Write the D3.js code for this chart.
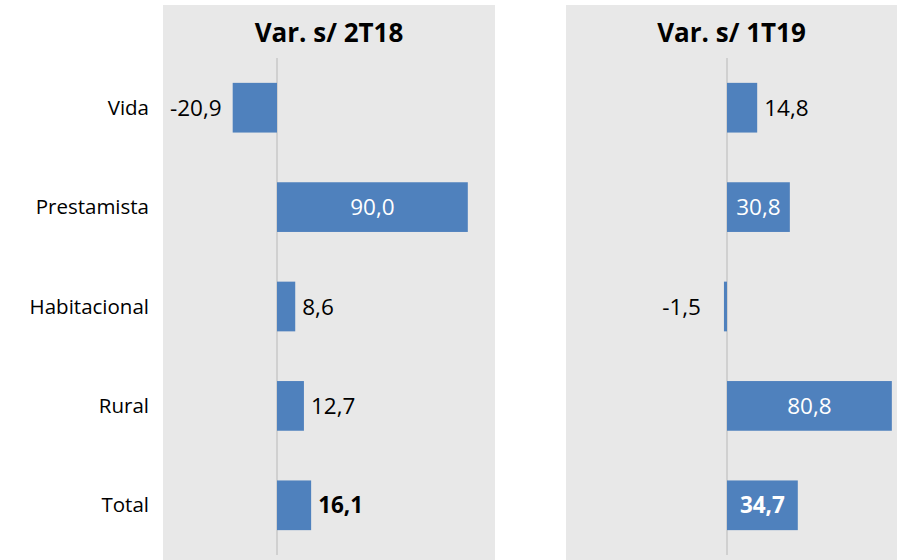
<!DOCTYPE html>
<html>
<head>
<meta charset="utf-8">
<script src="https://cdn.jsdelivr.net/npm/d3@7"></script>
<style>
  html, body { margin: 0; padding: 0; background: #ffffff; }
  svg { display: block; font-family: "Open Sans", Lato, sans-serif; }
</style>
</head>
<body>
<svg id="chart" width="897" height="560"></svg>
<script>
const categories = ["Vida", "Prestamista", "Habitacional", "Rural", "Total"];
const panelTitles = ["Var. s/ 2T18", "Var. s/ 1T19"];
const varVs2T18 = [-20.9, 90.0, 8.6, 12.7, 16.1];
const varVs1T19 = [14.8, 30.8, -1.5, 80.8, 34.7];

const fmt = v => v.toFixed(1).replace(".", ",");
const svg = d3.select("#chart");
const barColor = "#4f81bd";
const panelBg = "#e8e8e8";

const y = d3.scaleBand().domain(categories).range([58, 555]).paddingInner(0.5).paddingOuter(0.25);

// category labels
svg.append("g").selectAll("text").data(categories).join("text")
  .attr("x", 149)
  .attr("y", d => y(d) + y.bandwidth() / 2)
  .attr("dy", "0.35em")
  .attr("text-anchor", "end")
  .attr("font-size", 20.5)
  .attr("fill", "#000")
  .text(d => d);

const panels = [
  { title: panelTitles[0], values: varVs2T18, x0: 163, x1: 495, domain: [-40, 100], range: [192.2, 489] },
  { title: panelTitles[1], values: varVs1T19, x0: 566, x1: 897, domain: [-80, 80], range: [563.8, 890.2] }
];

panels.forEach(p => {
  const g = svg.append("g");
  g.append("rect").attr("x", p.x0).attr("y", 5).attr("width", p.x1 - p.x0).attr("height", 560).attr("fill", panelBg);
  const x = d3.scaleLinear().domain(p.domain).range(p.range);
  g.append("text")
    .attr("x", (p.x0 + p.x1) / 2).attr("y", 42)
    .attr("text-anchor", "middle")
    .attr("font-size", 26).attr("font-weight", "bold").attr("fill", "#000")
    .text(p.title);
  // zero line
  g.append("line")
    .attr("x1", x(0)).attr("x2", x(0)).attr("y1", 58).attr("y2", 555)
    .attr("stroke", "#d0d0d0").attr("stroke-width", 2);
  const rows = categories.map((c, i) => ({ c, v: p.values[i], i }));
  g.selectAll("rect.bar").data(rows).join("rect")
    .attr("class", "bar")
    .attr("x", d => Math.min(x(0), x(d.v)))
    .attr("width", d => Math.max(Math.abs(x(d.v) - x(0)), 2))
    .attr("y", d => y(d.c))
    .attr("height", y.bandwidth())
    .attr("fill", barColor);
  g.selectAll("text.val").data(rows).join("text")
    .attr("class", "val")
    .each(function(d) {
      const w = Math.abs(x(d.v) - x(0));
      const inside = w > 50;
      const t = d3.select(this);
      const isTotal = d.c === "Total";
      t.attr("y", y(d.c) + y.bandwidth() / 2)
       .attr("dy", "0.36em")
       .attr("font-size", 22.5)
       .attr("font-weight", isTotal ? "bold" : "normal");
      if (inside) {
        t.attr("x", (x(0) + x(d.v)) / 2).attr("text-anchor", "middle").attr("fill", "#fff");
      } else if (d.v >= 0) {
        t.attr("x", x(d.v) + 7).attr("text-anchor", "start").attr("fill", "#000");
      } else {
        t.attr("x", x(d.v) - 11 - (w < 10 ? 12 : 0)).attr("text-anchor", "end").attr("fill", "#000");
      }
    })
    .text(d => fmt(d.v));
});
</script>
</body>
</html>
